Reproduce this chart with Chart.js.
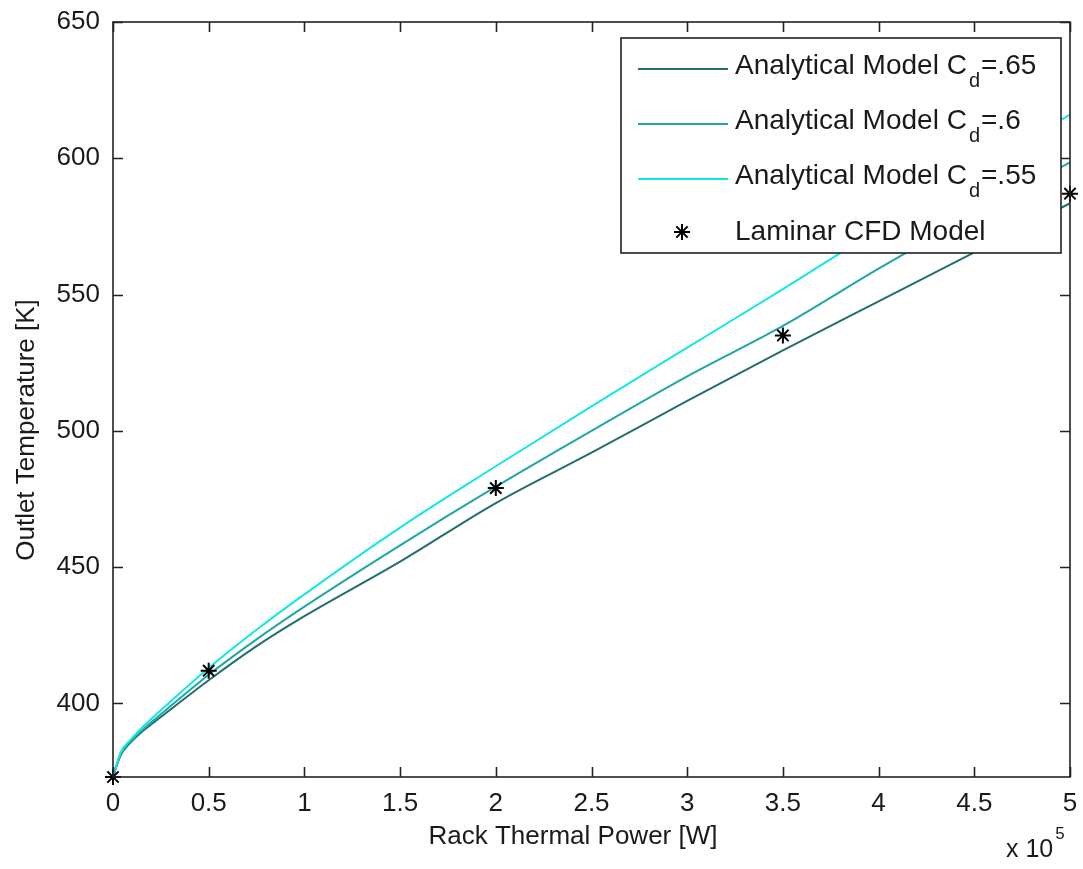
<!DOCTYPE html>
<html>
<head>
<meta charset="utf-8">
<script src="https://cdn.jsdelivr.net/npm/chart.js@4.4.1/dist/chart.umd.min.js"></script>
<style>
  html, body { margin: 0; padding: 0; background: #ffffff; }
  #wrap { width: 1083px; height: 869px; position: relative; }
</style>
</head>
<body>
<div id="wrap"><canvas id="chart" width="1083" height="869"></canvas></div>
<script>
// Rack thermal power grid for the analytical curves [W]
const powerW = [0, 4000, 9000, 15000, 25000, 50000, 75000, 100000, 150000,
                200000, 250000, 300000, 350000, 400000, 450000, 500000];

// Outlet temperature [K] from the analytical model for each discharge coefficient
const tempCd065 = [373, 381, 385.5, 389.5, 395, 408.5, 421, 432, 452,
                   473.5, 492, 511, 529.5, 547.5, 565.5, 583.5];
const tempCd060 = [373, 381.5, 386, 390, 396, 410.5, 423.5, 435.5, 458,
                   479.5, 500, 520, 538.5, 559.5, 579.5, 598.5];
const tempCd055 = [373, 382, 386.5, 391, 397.5, 413, 427, 440, 464.5,
                   487, 509, 530.5, 552, 574, 595, 616];

// Laminar CFD results
const cfdPowerW = [0, 50000, 200000, 350000, 500000];
const cfdTemp   = [373, 412, 479, 535, 587];

// Axis tick values
const xTicks = [0, 50000, 100000, 150000, 200000, 250000, 300000, 350000, 400000, 450000, 500000];
const yTicks = [400, 450, 500, 550, 600, 650];

// Legend text pieces: "Analytical Model C" + subscript d + "=value"
const cdLabels = ['.65', '.6', '.55'];
const cfdLabel = 'Laminar CFD Model';

const FONT = "'Liberation Sans', Arial, Helvetica, sans-serif";
const TEXT = '#1a1a1a';
const colors = ['#236e6e', '#22a5a5', '#12e6e6'];

const toXY = (xs, ys) => xs.map((x, i) => ({ x: x, y: ys[i] }));

const curveSeries = [tempCd065, tempCd060, tempCd055];
const datasets = curveSeries.map((ys, i) => ({
  label: 'Analytical Model Cd=' + cdLabels[i],
  data: toXY(powerW, ys),
  borderColor: colors[i],
  backgroundColor: colors[i],
  borderWidth: 2,
  pointRadius: 0,
  cubicInterpolationMode: 'monotone',
  fill: false,
  order: 3 - i
}));
datasets.push({
  label: cfdLabel,
  data: toXY(cfdPowerW, cfdTemp),
  showLine: false,
  pointStyle: 'star',
  pointRadius: 8,
  pointBorderWidth: 2,
  borderColor: '#000',
  backgroundColor: '#000',
  clip: false,
  order: 0
});

// Scale paddings are zeroed so the layout padding alone fixes the plot box
const noScalePadding = s => {
  s.paddingTop = 0; s.paddingBottom = 0; s.paddingLeft = 0; s.paddingRight = 0;
};

// Box, inward ticks, axis titles, exponent and legend
const decorations = {
  id: 'decorations',
  afterDatasetsDraw(chart) {
    const ctx = chart.ctx;
    const a = chart.chartArea;
    const xs = chart.scales.x, ys = chart.scales.y;
    const tick = 10;
    ctx.save();
    ctx.strokeStyle = '#222';
    ctx.lineWidth = 1.6;
    ctx.strokeRect(a.left, a.top, a.right - a.left, a.bottom - a.top);
    ctx.beginPath();
    xs.ticks.forEach(t => {
      const px = Math.round(xs.getPixelForValue(t.value)) + 0.5;
      ctx.moveTo(px, a.bottom); ctx.lineTo(px, a.bottom - tick);
      ctx.moveTo(px, a.top); ctx.lineTo(px, a.top + tick);
    });
    ys.ticks.forEach(t => {
      const py = Math.round(ys.getPixelForValue(t.value)) + 0.5;
      ctx.moveTo(a.left, py); ctx.lineTo(a.left + tick, py);
      ctx.moveTo(a.right, py); ctx.lineTo(a.right - tick, py);
    });
    ctx.stroke();

    // axis titles
    ctx.fillStyle = TEXT;
    ctx.font = '26px ' + FONT;
    ctx.textAlign = 'center';
    ctx.textBaseline = 'middle';
    ctx.fillText('Rack Thermal Power [W]', 573, 837);
    ctx.save();
    ctx.translate(27, 430);
    ctx.rotate(-Math.PI / 2);
    ctx.fillText('Outlet Temperature [K]', 0, 0);
    ctx.restore();

    // x-axis exponent
    ctx.textAlign = 'left';
    ctx.textBaseline = 'alphabetic';
    ctx.font = '25px ' + FONT;
    ctx.fillText('x 10', 1006, 857);
    const w10 = ctx.measureText('x 10').width;
    ctx.font = '17px ' + FONT;
    ctx.fillText('5', 1006 + w10 + 2, 839);

    // legend
    const L = { left: 621, top: 38, right: 1061, bottom: 253 };
    ctx.fillStyle = '#fff';
    ctx.fillRect(L.left, L.top, L.right - L.left, L.bottom - L.top);
    ctx.strokeStyle = '#222';
    ctx.lineWidth = 1.6;
    ctx.strokeRect(L.left, L.top, L.right - L.left, L.bottom - L.top);
    const rowY = [69, 124, 179, 232];
    const textX = 735;
    cdLabels.forEach((lab, i) => {
      ctx.strokeStyle = colors[i];
      ctx.lineWidth = 2;
      ctx.beginPath();
      ctx.moveTo(638, rowY[i]); ctx.lineTo(728, rowY[i]);
      ctx.stroke();
      ctx.fillStyle = TEXT;
      ctx.font = '28px ' + FONT;
      ctx.textBaseline = 'alphabetic';
      const base = rowY[i] + 5;
      const p1 = 'Analytical Model C';
      ctx.fillText(p1, textX, base);
      let x = textX + ctx.measureText(p1).width + 2;
      ctx.font = '20px ' + FONT;
      ctx.fillText('d', x, base + 13);
      x += ctx.measureText('d').width + 1;
      ctx.font = '28px ' + FONT;
      ctx.fillText('=' + lab, x, base);
    });
    // CFD legend marker uses the same point style as the dataset
    ctx.strokeStyle = '#000';
    ctx.fillStyle = '#000';
    ctx.lineWidth = 2;
    Chart.helpers.drawPoint(ctx, { pointStyle: 'star', radius: 8, borderWidth: 2 }, 682, rowY[3]);
    ctx.fillStyle = TEXT;
    ctx.font = '28px ' + FONT;
    ctx.fillText(cfdLabel, textX, rowY[3] + 8);
    ctx.restore();
  }
};

new Chart(document.getElementById('chart'), {
  type: 'line',
  data: { datasets: datasets },
  plugins: [decorations],
  options: {
    responsive: false,
    animation: false,
    devicePixelRatio: 1,
    layout: { padding: { top: 22, right: 13, left: 0, bottom: 0 } },
    plugins: { legend: { display: false }, tooltip: { enabled: false } },
    scales: {
      x: {
        type: 'linear',
        min: 0, max: 500000,
        afterFit: s => { s.height = 92; noScalePadding(s); },
        afterBuildTicks: s => { s.ticks = xTicks.map(v => ({ value: v })); },
        grid: { display: false, drawTicks: false },
        border: { display: false },
        ticks: {
          padding: 11,
          color: TEXT,
          font: { family: FONT, size: 26 },
          maxRotation: 0,
          callback: v => String(v / 100000)
        }
      },
      y: {
        type: 'linear',
        min: 373, max: 650,
        afterFit: s => { s.width = 113; noScalePadding(s); },
        afterBuildTicks: s => { s.ticks = yTicks.map(v => ({ value: v })); },
        grid: { display: false, drawTicks: false },
        border: { display: false },
        ticks: {
          padding: 13,
          color: TEXT,
          font: { family: FONT, size: 26 },
          callback: v => String(v)
        }
      }
    }
  }
});
</script>
</body>
</html>
